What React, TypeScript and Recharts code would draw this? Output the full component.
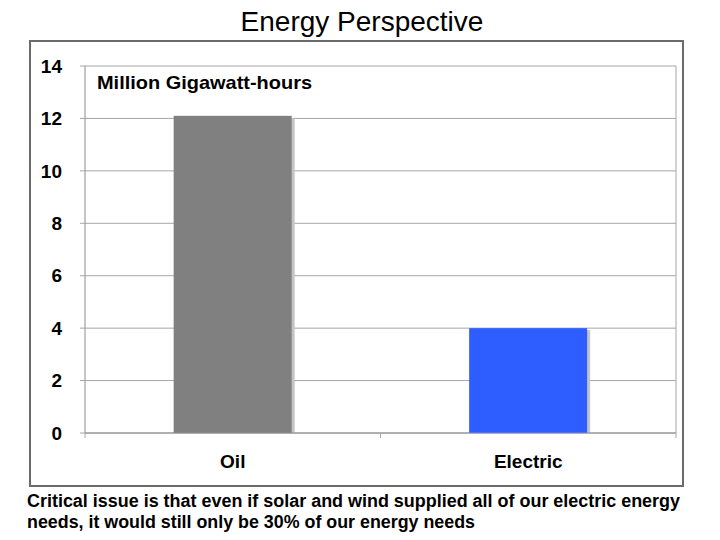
import { BarChart, Bar, XAxis, YAxis, CartesianGrid, Cell } from 'recharts';

const categories = ['Oil', 'Electric'];
const values = [12.1, 4.0];
const barColors = ['#808080', '#2E5EFF'];
const yTicks = [0, 2, 4, 6, 8, 10, 12, 14];

const title = 'Energy Perspective';
const unitLabel = 'Million Gigawatt-hours';
const footerLines = [
  'Critical issue is that even if solar and wind supplied all of our electric energy',
  'needs, it would still only be 30% of our energy needs',
];

const data = categories.map((name, i) => ({ name, value: values[i] }));

const FONT = '"Liberation Sans", Arial, Helvetica, sans-serif';
const GRID = '#a6a6a6';

// bar with a thin light shadow on its right side
function ShadowBar(props: any) {
  const { x, y, width, height, fill } = props;
  if (!height || height <= 0) return null;
  return (
    <g>
      <rect x={x + 3} y={y + 2} width={width} height={height - 2} fill="#c4c4c4" />
      <rect x={x} y={y} width={width} height={height} fill={fill} />
    </g>
  );
}

// category label, plus small tick marks at the band edges
function CategoryTick(props: any) {
  const { x, y, payload } = props;
  const half = payload?.offset ?? 0;
  return (
    <g>
      <line x1={x - half} x2={x - half} y1={y} y2={y + 5} stroke={GRID} />
      <line x1={x + half} x2={x + half} y1={y} y2={y + 5} stroke={GRID} />
      <text
        x={x}
        y={y + 35}
        textAnchor="middle"
        fontFamily={FONT}
        fontWeight="bold"
        fontSize={19}
        fill="#000"
      >
        {payload.value}
      </text>
    </g>
  );
}

export default function App() {
  return (
    <div
      style={{
        position: 'absolute',
        left: 0,
        top: 0,
        width: 720,
        height: 540,
        background: '#fff',
        fontFamily: FONT,
      }}
    >
      <div
        style={{
          position: 'absolute',
          left: 29,
          top: 40,
          width: 655,
          height: 447,
          border: '2px solid #6b6b6b',
          boxSizing: 'border-box',
        }}
      />
      <div style={{ position: 'absolute', left: 0, top: 0 }}>
        <BarChart
          width={720}
          height={540}
          data={data}
          margin={{ top: 66, right: 43, bottom: 67, left: 0 }}
          barCategoryGap="30%"
        >
          <CartesianGrid vertical={false} stroke={GRID} />
          <XAxis
            dataKey="name"
            height={40}
            tickSize={0}
            tickMargin={0}
            tickLine={false}
            axisLine={{ stroke: '#8c8c8c' }}
            tick={<CategoryTick />}
            interval={0}
          />
          <YAxis
            width={85}
            domain={[0, 14]}
            ticks={yTicks}
            tickSize={5}
            tickMargin={18}
            tickLine={{ stroke: GRID }}
            axisLine={{ stroke: '#8c8c8c' }}
            tick={{ fill: '#000', fontSize: 19, fontWeight: 'bold', fontFamily: FONT }}
          />
          <YAxis
            yAxisId="r"
            orientation="right"
            width={1}
            domain={[0, 14]}
            tick={false}
            tickLine={false}
            axisLine={{ stroke: GRID }}
          />
          <Bar dataKey="value" shape={<ShadowBar />} isAnimationActive={false}>
            {data.map((d, i) => (
              <Cell key={d.name} fill={barColors[i]} />
            ))}
          </Bar>
        </BarChart>
      </div>
      <svg
        width={720}
        height={540}
        style={{ position: 'absolute', left: 0, top: 0, pointerEvents: 'none' }}
      >
        <text x={362} y={31} textAnchor="middle" fontFamily={FONT} fontSize={28} fill="#000">
          {title}
        </text>
        <text
          x={97}
          y={89}
          fontFamily={FONT}
          fontWeight="bold"
          fontSize={19}
          fill="#000"
          textLength={215}
          lengthAdjust="spacingAndGlyphs"
        >
          {unitLabel}
        </text>
        <text
          x={27}
          y={507}
          fontFamily={FONT}
          fontWeight="bold"
          fontSize={18}
          fill="#000"
          textLength={653}
          lengthAdjust="spacingAndGlyphs"
        >
          {footerLines[0]}
        </text>
        <text
          x={27}
          y={528}
          fontFamily={FONT}
          fontWeight="bold"
          fontSize={18}
          fill="#000"
          textLength={448}
          lengthAdjust="spacingAndGlyphs"
        >
          {footerLines[1]}
        </text>
      </svg>
    </div>
  );
}
